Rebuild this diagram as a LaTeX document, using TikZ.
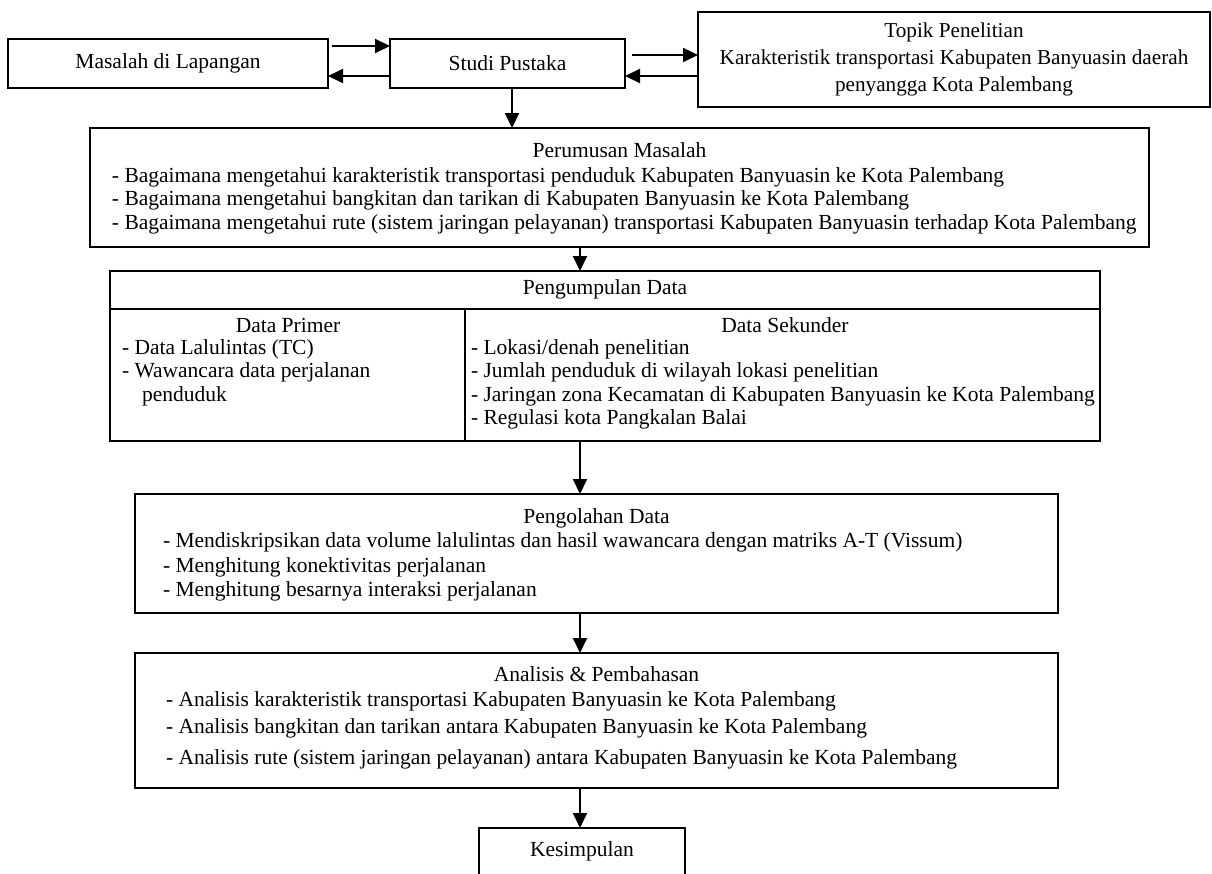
\documentclass[tikz,border=0pt]{standalone}
\usepackage{fontspec}
\setmainfont{Liberation Serif}
\usetikzlibrary{arrows.meta}
\newcommand\diagfont{\fontsize{10.75}{13}\selectfont}
\begin{document}
\begin{tikzpicture}[x=0.5pt,y=-0.5pt,
  box/.style={draw, line width=1pt, inner sep=0pt, outer sep=0pt, font=\diagfont},
  txt/.style={inner sep=0pt, outer sep=0pt, font=\diagfont},
  arr/.style={line width=1pt, -{Triangle[length=7.5pt,width=7pt]}},
  sep/.style={line width=1pt}]
\useasboundingbox (0,0) rectangle (1212,874);
\clip (0,0) rectangle (1212,874);

% helper coordinates
\coordinate (y46) at (0,46);
\coordinate (y55) at (0,55);
\coordinate (y76) at (0,76);
\coordinate (x512) at (512,0);
\coordinate (x580) at (580,0);
\coordinate (y309) at (0,309);
\coordinate (x465) at (465,0);

% top row
\node[box, minimum width=160pt, minimum height=24.5pt] (masalah) at (168,63.5) {Masalah di Lapangan};
\node[box, minimum width=117.5pt, minimum height=24.5pt] (studi) at (507.5,63.5) {Studi Pustaka};
\node[box, minimum width=256pt, minimum height=47.5pt, align=center,
      font=\fontsize{10.6}{13.3}\selectfont] (topik) at (954,59.5)
  {Topik Penelitian\\Karakteristik transportasi Kabupaten Banyuasin daerah\\penyangga Kota Palembang};

\draw[arr] ([xshift=2pt]masalah.east |- y46) -- (studi.west |- y46);
\draw[arr] (studi.west |- y76) -- (masalah.east |- y76);
\draw[arr] ([xshift=3.5pt]studi.east |- y55) -- (topik.west |- y55);
\draw[arr] (topik.west |- y76) -- (studi.east |- y76);

% Perumusan Masalah
\node[box, minimum width=529.5pt, minimum height=59.5pt] (perumusan) at (619.5,187.5) {};
\node[txt, anchor=mid] (perT) at (619.5,153) {Perumusan Masalah};
\node[txt, anchor=mid west] (per1) at (112,178) {- Bagaimana mengetahui karakteristik transportasi penduduk Kabupaten Banyuasin ke Kota Palembang};
\node[txt, anchor=mid west] (per2) at (112,201) {- Bagaimana mengetahui bangkitan dan tarikan di Kabupaten Banyuasin ke Kota Palembang};
\node[txt, anchor=mid west] (per3) at (112,225) {- Bagaimana mengetahui rute (sistem jaringan pelayanan) transportasi Kabupaten Banyuasin terhadap Kota Palembang};

\draw[arr] (studi.south -| x512) -- (perumusan.north -| x512);

% Pengumpulan Data
\node[box, line width=1.3pt, minimum width=495pt, minimum height=85pt] (pengumpulan) at (605,356) {};
\draw[sep] (pengumpulan.west |- y309) -- (pengumpulan.east |- y309);
\draw[sep] (x465 |- y309) -- (x465 |- pengumpulan.south);
\node[txt, anchor=mid] (pgT) at (605,290) {Pengumpulan Data};
\node[txt, anchor=mid] (prT) at (288,328) {Data Primer};
\node[txt, anchor=mid west] (pr1) at (122,350) {- Data Lalulintas (TC)};
\node[txt, anchor=mid west] (pr2) at (122,373) {- Wawancara data perjalanan};
\node[txt, anchor=mid west] (pr3) at (142,397) {penduduk};
\node[txt, anchor=mid] (skT) at (785,328) {Data Sekunder};
\node[txt, anchor=mid west] (sk1) at (471,350) {- Lokasi/denah penelitian};
\node[txt, anchor=mid west] (sk2) at (471,373) {- Jumlah penduduk di wilayah lokasi penelitian};
\node[txt, anchor=mid west] (sk3) at (471,397) {- Jaringan zona Kecamatan di Kabupaten Banyuasin ke Kota Palembang};
\node[txt, anchor=mid west] (sk4) at (471,420) {- Regulasi kota Pangkalan Balai};

\draw[arr] (perumusan.south -| x580) -- (pengumpulan.north -| x580);

% Pengolahan Data
\node[box, minimum width=461.5pt, minimum height=59.5pt] (pengolahan) at (596.5,553.5) {};
\node[txt, anchor=mid] (poT) at (596.5,519) {Pengolahan Data};
\node[txt, anchor=mid west] (po1) at (163,543) {- Mendiskripsikan data volume lalulintas dan hasil wawancara dengan matriks A-T (Vissum)};
\node[txt, anchor=mid west] (po2) at (163,568) {- Menghitung konektivitas perjalanan};
\node[txt, anchor=mid west] (po3) at (163,592) {- Menghitung besarnya interaksi perjalanan};

\draw[arr] (pengumpulan.south -| x580) -- (pengolahan.north -| x580);

% Analisis & Pembahasan
\node[box, minimum width=461.5pt, minimum height=67.5pt] (analisis) at (596.5,720.5) {};
\node[txt, anchor=mid] (anT) at (596.5,677) {Analisis \& Pembahasan};
\node[txt, anchor=mid west] (an1) at (166,702) {- Analisis karakteristik transportasi Kabupaten Banyuasin ke Kota Palembang};
\node[txt, anchor=mid west] (an2) at (166,729) {- Analisis bangkitan dan tarikan antara Kabupaten Banyuasin ke Kota Palembang};
\node[txt, anchor=mid west] (an3) at (166,760) {- Analisis rute (sistem jaringan pelayanan) antara Kabupaten Banyuasin ke Kota Palembang};

\draw[arr] (pengolahan.south -| x580) -- (analisis.north -| x580);

% Kesimpulan (cut off at bottom)
\node[box, minimum width=103pt, minimum height=36pt] (kesimpulan) at (582,864) {};
\node[txt, anchor=mid] (kesT) at (582,852) {Kesimpulan};

\draw[arr] (analisis.south -| x580) -- (kesimpulan.north -| x580);
\end{tikzpicture}
\end{document}
